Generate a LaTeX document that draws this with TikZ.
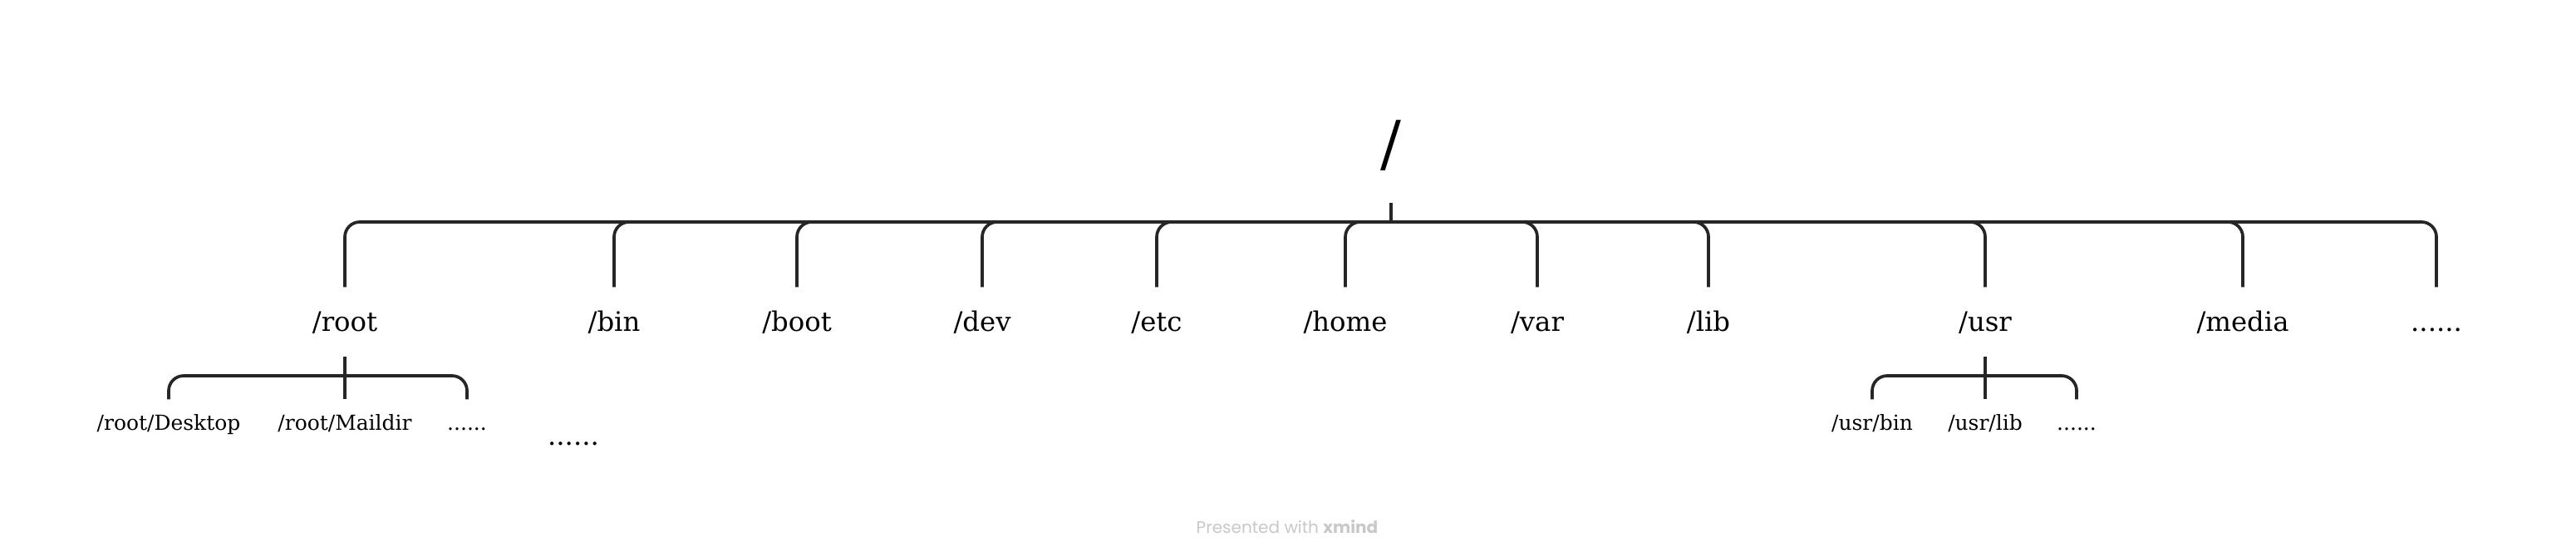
\documentclass[tikz,border=0pt]{standalone}
\usepackage{fontspec}
\setmainfont{DejaVu Serif}
\newfontfamily\footfont{Poppins}
\usetikzlibrary{calc}
\definecolor{linegray}{HTML}{262626}
\definecolor{footgray}{HTML}{C8C8C8}
\tikzset{
dir/.style={font=\fontsize{9.2}{11}\selectfont, anchor=base, text height=0.25cm, text depth=0.03cm, inner xsep=0pt, inner ysep=0.27cm},
subdir/.style={font=\fontsize{7.1}{8.5}\selectfont, anchor=base, text height=0.18cm, text depth=0.03cm, inner xsep=0pt, inner ysep=0.18cm},
branch/.style={line width=1.05pt, draw=linegray, rounded corners=0.18cm},
}

\begin{document}
\begin{tikzpicture}
\useasboundingbox (0,0) rectangle (31,-6.7);
\node[font=\fontsize{21}{25}\selectfont] (top) at (16.74,-1.75) {/};
\coordinate (stub) at (16.74,-2.44);
\coordinate (hub) at (16.74,-2.67);
% first level
\foreach \x/\n in {4.15/root,7.39/bin,9.59/boot,11.82/dev,13.92/etc,16.19/home,18.50/var,20.56/lib,23.89/usr,26.99/media}
\node[dir] (\n) at (\x,-3.98) {/\n};
\node[dir] (more) at (29.32,-3.98) {......};
\node[dir] (binmore) at (6.90,-5.35) {......};
\draw[branch] (stub) -- (hub);
\foreach \n in {root,bin,boot,dev,etc,home,var,lib,usr,media,more}
\draw[branch] (hub) -| (\n.north);
% /root
\node[subdir] (desktop) at (2.03,-5.17) {/root/Desktop};
\node[subdir] (maildir) at (4.15,-5.17) {/root/Maildir};
\node[subdir] (rootmore) at (5.62,-5.17) {......};
\coordinate (roothub) at (4.15,-4.52);
\draw[branch] (root.south) -- (maildir.north);
\draw[branch] (desktop.north) |- (roothub) -| (rootmore.north);
% /usr
\node[subdir] (usrbin) at (22.53,-5.17) {/usr/bin};
\node[subdir] (usrlib) at (23.89,-5.17) {/usr/lib};
\node[subdir] (usrmore) at (24.99,-5.17) {......};
\coordinate (usrhub) at (23.89,-4.52);
\draw[branch] (usr.south) -- (usrlib.north);
\draw[branch] (usrbin.north) |- (usrhub) -| (usrmore.north);
\node[font=\footfont\fontsize{5.7}{7}\selectfont, text=footgray, anchor=base] (credit) at (15.49,-6.41) {Presented with \textbf{xmind}};
\end{tikzpicture}
\end{document}
